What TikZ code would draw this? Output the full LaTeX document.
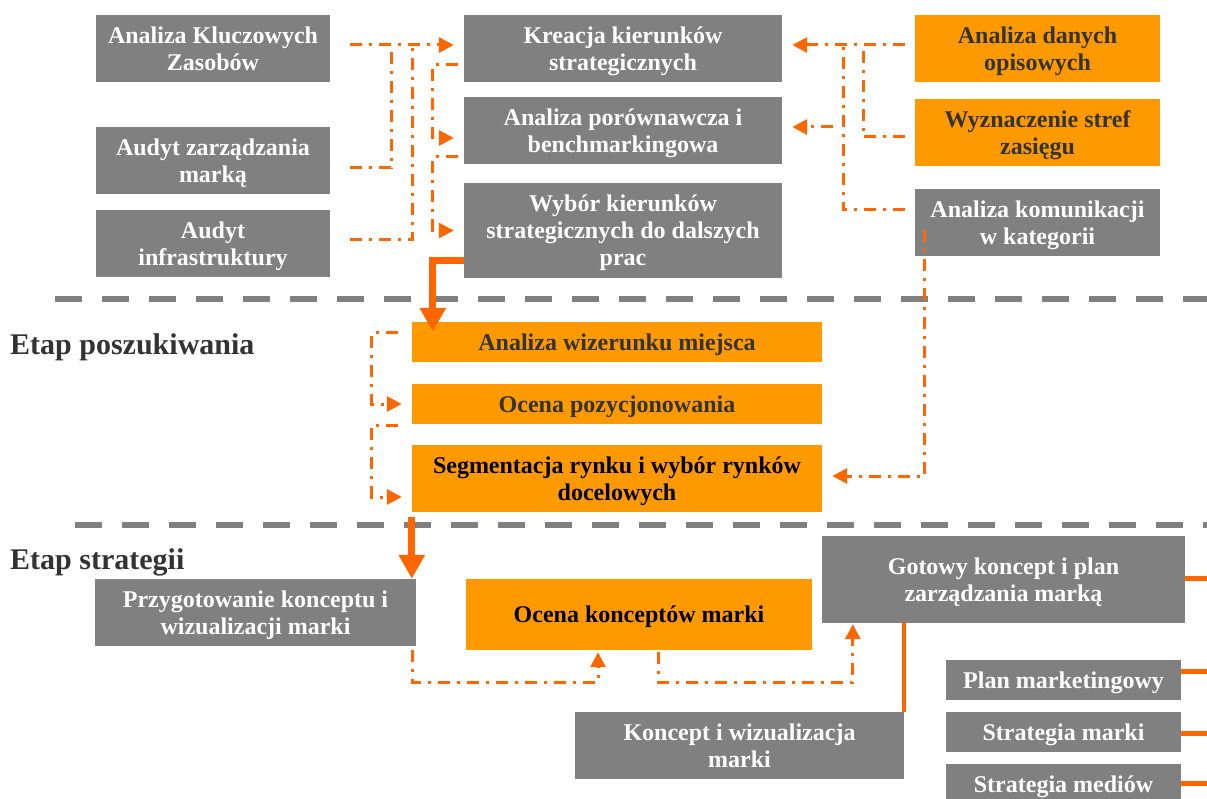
\documentclass[tikz,border=0pt]{standalone}
\usepackage{fontspec}
\setmainfont{Liberation Serif}
\usepackage{tikz}
\usetikzlibrary{arrows.meta,positioning}

\definecolor{boxgray}{HTML}{808080}
\definecolor{boxorange}{HTML}{FF9900}
\definecolor{lineorange}{HTML}{FF6600}
\definecolor{txtdark}{HTML}{333333}

\begin{document}
\begin{tikzpicture}[x=1pt, y=-1pt,
  gbox/.style = {fill = boxgray, text = white, shape = rectangle, inner sep = 0pt, align = center, text depth = -7.5pt, font = \bfseries\fontsize{24}{27}\selectfont},
  obox/.style = {gbox, fill = boxorange, text = txtdark},
  link/.style = {draw = lineorange, line width = 3pt, dash pattern = on 12pt off 7pt on 3pt off 7pt},
  tip/.style = {-{Triangle[length = 15pt, width = 15pt]}, shorten > = 10pt},
  heavy/.style = {draw = lineorange, line width = 7pt, -{Triangle[length = 24pt, width = 25pt]}},
  stub/.style = {draw = lineorange, line width = 5pt},
  sep/.style = {draw = boxgray, line width = 6pt, dash pattern = on 27pt off 20pt},
  stage/.style = {anchor = west, inner sep = 0pt, text = txtdark, font = \bfseries\fontsize{30}{34}\selectfont}]
\useasboundingbox (0,0) rectangle (1207,799);

% top block
\node[gbox, minimum width = 234pt, minimum height = 67pt] (akz) at (213,48.5) {Analiza Kluczowych\\Zasobów};
\node[gbox, minimum width = 234pt, minimum height = 67pt] (azm) at (213,160.5) {Audyt zarządzania\\marką};
\node[gbox, minimum width = 234pt, minimum height = 67pt] (ainf) at (213,243.5) {Audyt\\infrastruktury};
\node[gbox, minimum width = 318pt, minimum height = 67pt] (kreacja) at (623,48.5) {Kreacja kierunków\\strategicznych};
\node[gbox, minimum width = 318pt, minimum height = 67pt] (porown) at (623,130.5) {Analiza porównawcza i\\benchmarkingowa};
\node[gbox, minimum width = 318pt, minimum height = 95pt] (wybor) at (623,230.5) {Wybór kierunków\\strategicznych do dalszych\\prac};
\node[obox, minimum width = 245pt, minimum height = 67pt] (adane) at (1037.5,48.5) {Analiza danych\\opisowych};
\node[obox, minimum width = 245pt, minimum height = 67pt] (strefy) at (1037.5,132.5) {Wyznaczenie stref\\zasięgu};
\node[gbox, minimum width = 245pt, minimum height = 67pt] (akom) at (1037.5,222.5) {Analiza komunikacji\\w kategorii};

% stage separators
\draw[sep] (55,299) -- (1207,299);
\draw[sep] (75,525) -- (1207,525);
\node[stage] (etap1) at (10,347) {Etap poszukiwania};
\node[stage] (etap2) at (10,562) {Etap strategii};

% middle block
\node[obox, minimum width = 410pt, minimum height = 40pt] (wizer) at (617,342) {Analiza wizerunku miejsca};
\node[obox, minimum width = 410pt, minimum height = 40pt] (pozyc) at (617,404) {Ocena pozycjonowania};
\node[obox, text = black, minimum width = 410pt, minimum height = 67pt] (segm) at (617,478.5) {Segmentacja rynku i wybór rynków\\docelowych};

% bottom block
\node[gbox, minimum width = 321pt, minimum height = 67pt] (przyg) at (255.5,612.5) {Przygotowanie konceptu i\\wizualizacji marki};
\node[obox, text = black, minimum width = 346pt, minimum height = 71pt] (ocena) at (639,614.5) {Ocena konceptów marki};
\node[gbox, minimum width = 363pt, minimum height = 87pt] (gotowy) at (1003.5,579.5) {Gotowy koncept i plan\\zarządzania marką};
\node[gbox, minimum width = 329pt, minimum height = 67pt] (koncept) at (739.5,745.5) {Koncept i wizualizacja\\marki};
\node[gbox, minimum width = 235pt, minimum height = 40pt] (plan) at (1063.5,680) {Plan marketingowy};
\node[gbox, minimum width = 235pt, minimum height = 40pt] (smarki) at (1063.5,732) {Strategia marki};
\node[gbox, minimum width = 235pt, minimum height = 40pt] (smedia) at (1063.5,784) {Strategia mediów};

% junctions
\coordinate (j1) at (391,45);
\coordinate (j2) at (412,45);
\coordinate (j3) at (863,45);
\coordinate (j4) at (843,45);
\coordinate (j5) at (833,127);

% connectors, top
\draw[link, tip] ([xshift = 20pt, yshift = 3.5pt]akz.east) -- ([yshift = 3.5pt]kreacja.west);
\draw[link] ([xshift = 20pt, yshift = -7.5pt]azm.east) -| (j1);
\draw[link] ([xshift = 20pt, yshift = 3.5pt]ainf.east) -| (j2);
\draw[link, tip] ([xshift = -6pt, yshift = -16.5pt]kreacja.west) -- ++(-25,0) |- ([yshift = -7.5pt]porown.west);
\draw[link, tip] ([xshift = -6pt, yshift = -26.5pt]porown.west) -- ++(-25,0) |- (wybor.west);
\draw[heavy] ([yshift = -30.5pt]wybor.west) -| ([xshift = 21pt, yshift = -10pt]wizer.north west);
\draw[link, tip] ([xshift = -10pt, yshift = 3.5pt]adane.west) -- ([yshift = 3.5pt]kreacja.east);
\draw[link] ([xshift = -10pt, yshift = -4.5pt]strefy.west) -| (j3);
\draw[link] ([xshift = -10pt, yshift = 12.5pt]akom.west) -| (j4);
\draw[link, tip] (j5) -- ([yshift = 3.5pt]porown.east);
\draw[link, tip] ([xshift = 10pt, yshift = 26pt]akom.south west) |- ([yshift = 2.5pt]segm.east);

% connectors, middle
\draw[link, tip] ([xshift = -14pt, yshift = 9pt]wizer.west) -- ++(-26,0) |- (pozyc.west);
\draw[link, tip] ([xshift = -14pt, yshift = -21pt]pozyc.west) -- ++(-26,0) |- ([yshift = -18.5pt]segm.west);
\draw[heavy] ([yshift = -5pt]segm.south west) -- (segm.south west |- przyg.north);

% connectors, bottom
\draw[link, tip, shorten > = 2pt] ([xshift = -4pt, yshift = -4pt]przyg.south east) -- ++(0,32) -| ([xshift = -41pt]ocena.south);
\draw[link, tip, shorten > = 1pt] ([xshift = 19pt, yshift = -2pt]ocena.south) -- ++(0,30) -| ([xshift = 31pt]gotowy.south west);
\draw[stub, line width = 4pt] (koncept.north east |- gotowy.south) -- (koncept.north east);
\draw[stub] ([yshift = 1.5pt]gotowy.east) -- ++(22,0);
\draw[stub] ([yshift = 9pt]plan.east) -- ++(26,0);
\draw[stub] ([yshift = -1pt]smarki.east) -- ++(26,0);
\draw[stub] ([yshift = 1pt]smedia.east) -- ++(26,0);
\end{tikzpicture}
\end{document}
